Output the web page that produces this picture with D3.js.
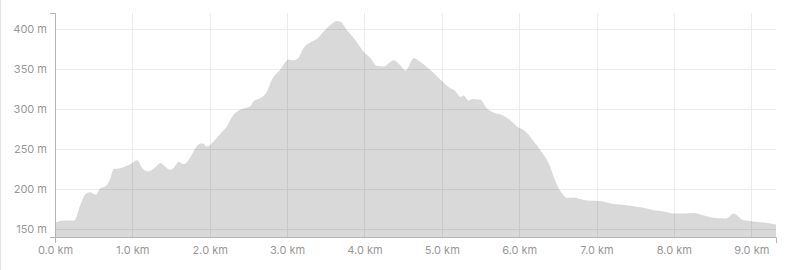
<!DOCTYPE html>
<html>
<head>
<meta charset="utf-8">
<script src="https://cdn.jsdelivr.net/npm/d3@7"></script>
<style>
  body { margin: 0; background: #fff; }
  svg { display: block; }
  .tick text { font-family: Inter, "Noto Sans", sans-serif; font-size: 11px; fill: #979797; }
</style>
</head>
<body>
<svg id="chart"></svg>
<script>
// distance along the track (km) and elevation (m)
const distance = [0.00, 0.07, 0.13, 0.25, 0.32, 0.39, 0.45, 0.53, 0.58, 0.66, 0.71, 0.76, 0.84, 0.93, 1.00,
    1.06, 1.13, 1.21, 1.28, 1.37, 1.42, 1.49, 1.53, 1.60, 1.66, 1.69, 1.77, 1.83, 1.88, 1.92, 1.96,
    2.05, 2.13, 2.22, 2.31, 2.39, 2.52, 2.57, 2.65, 2.74, 2.80, 2.91, 3.02, 3.08, 3.15, 3.21, 3.30,
    3.39, 3.47, 3.56, 3.64, 3.69, 3.77, 3.88, 3.99, 4.08, 4.16, 4.25, 4.31, 4.38, 4.46, 4.53, 4.64,
    4.72, 4.85, 4.98, 5.11, 5.17, 5.24, 5.28, 5.35, 5.39, 5.50, 5.58, 5.67, 5.80, 5.89, 5.97, 6.08,
    6.19, 6.30, 6.38, 6.47, 6.55, 6.62, 6.71, 6.79, 6.88, 7.05, 7.18, 7.31, 7.48, 7.61, 7.74, 7.87,
    8.00, 8.13, 8.26, 8.39, 8.52, 8.67, 8.71, 8.77, 8.82, 8.88, 8.99, 9.12, 9.21, 9.32];
const elevation = [158, 160, 160.5, 160.5, 178, 193, 196, 193, 200, 204, 212, 225, 226, 229, 232.5,
    236, 226, 222, 226, 232.5, 228, 224, 226, 234, 231, 232, 243, 253, 257, 256.5, 253,
    259.5, 268, 278, 293, 299, 303, 310, 313.5, 322, 336, 349, 362, 361, 364.5, 376, 383,
    388, 396.5, 405, 410, 409, 399, 386.5, 371.5, 363.5, 354, 353, 357, 361, 355, 348, 363.5,
    359, 349, 337, 326, 323, 315, 317, 310.5, 312.5, 311.5, 301, 295.5, 291.5, 285.5, 278, 272,
    259.5, 245, 232.5, 209.5, 195, 189, 189.5, 187.5, 185.5, 185, 182, 180.5, 178.5, 176.5, 173.5, 172,
    169.5, 169.5, 170, 167, 164, 163, 165, 169.5, 167, 162, 160, 158.5, 157.5, 155.5];
const xTicks = [0, 1, 2, 3, 4, 5, 6, 7, 8, 9];
const yTicks = [150, 200, 250, 300, 350, 400];

const W = 800, H = 270;
const margin = {top: 13, right: 24, bottom: 33, left: 55},
    width = W - margin.left - margin.right,
    height = H - margin.top - margin.bottom;

const points = distance.map((d, i) => ({km: d, m: elevation[i]}));

const svg = d3.select('#chart').attr('width', W).attr('height', H);

// left border of the card
svg.append('line')
    .attr('x1', 0.5).attr('x2', 0.5).attr('y1', 0).attr('y2', H)
    .style('stroke', '#e3e3e3');

const g = svg.append('g').attr('transform', `translate(${margin.left},${margin.top})`);

const x = d3.scaleLinear().domain([0, 9.32]).range([0, width]);
const y = d3.scaleLinear().domain([140, 420]).range([height, 0]);

// grid
g.append('g').selectAll('line.h')
    .data(yTicks).enter().append('line')
    .attr('x1', 0).attr('x2', width)
    .attr('y1', d => Math.round(y(d)) + 0.5).attr('y2', d => Math.round(y(d)) + 0.5)
    .style('stroke', '#ececec');
g.append('g').selectAll('line.v')
    .data(xTicks).enter().append('line')
    .attr('x1', d => Math.round(x(d)) + 0.5).attr('x2', d => Math.round(x(d)) + 0.5)
    .attr('y1', 0).attr('y2', height)
    .style('stroke', '#ececec');

// elevation area
const area = d3.area()
    .curve(d3.curveMonotoneX)
    .x(d => x(d.km))
    .y0(height)
    .y1(d => y(d.m));

g.append('path')
    .datum(points)
    .attr('d', area)
    .style('fill', 'rgba(0,0,0,0.15)');

// axes
const yAxis = g.append('g')
    .call(d3.axisLeft(y).tickValues(yTicks).tickSizeInner(0).tickSizeOuter(5).tickPadding(8)
        .tickFormat(d => d + ' m'));
const xAxis = g.append('g')
    .attr('transform', `translate(0,${height})`)
    .call(d3.axisBottom(x).tickValues(xTicks).tickSizeInner(0).tickSizeOuter(6).tickPadding(9)
        .tickFormat(d => d3.format('.1f')(d) + ' km'));

[yAxis, xAxis].forEach(a => {
    a.select('.domain').style('stroke', '#b5b5b5');
    a.selectAll('.tick line').remove();
});
</script>
</body>
</html>
